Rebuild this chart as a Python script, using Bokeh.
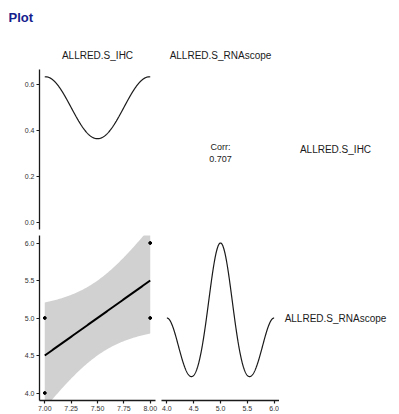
import numpy as np
from bokeh.plotting import figure
from bokeh.layouts import column, row
from bokeh.models import Range1d, FixedTicker, PrintfTickFormatter
from bokeh.core.properties import value
from bokeh.embed import file_html
from bokeh.resources import INLINE

# ---------------- data ----------------
var_names = ["ALLRED.S_IHC", "ALLRED.S_RNAscope"]
ihc = [7, 7, 7, 7, 8, 8, 8, 8]
rnascope = [4, 4, 5, 5, 5, 5, 6, 6]
density_ticks = [0.0, 0.2, 0.4, 0.6]
ihc_ticks = [7.0, 7.25, 7.5, 7.75, 8.0]
rna_ticks = [4.0, 4.5, 5.0, 5.5, 6.0]
T_975_DF6 = 2.446912  # t quantile used for the 95% band of the lm fit

FONT = "Liberation Sans"
AXIS_COL = "#1a1a1a"
TICK_LABEL_COL = "#333333"


# ---------------- helpers ----------------
def bw_nrd0(x):
    x = np.asarray(x, float)
    sd = np.std(x, ddof=1)
    q75, q25 = np.percentile(x, [75, 25])
    lo = min(sd, (q75 - q25) / 1.34)
    return 0.9 * lo * len(x) ** -0.2


def kde(x, n=512):
    x = np.asarray(x, float)
    h = bw_nrd0(x)
    grid = np.linspace(x.min(), x.max(), n)
    d = np.exp(-0.5 * ((grid[:, None] - x[None, :]) / h) ** 2).sum(axis=1)
    d /= (len(x) * h * np.sqrt(2 * np.pi))
    return grid, d


def expand(lo, hi, f=0.05):
    r = hi - lo
    return Range1d(lo - f * r, hi + f * r)


def base_fig(width, height, x_range, y_range, xaxis=False, yaxis=False, **borders):
    p = figure(width=width, height=height, x_range=x_range, y_range=y_range,
               output_backend="svg", toolbar_location=None,
               x_axis_location="below" if xaxis else None,
               y_axis_location="left" if yaxis else None,
               min_border_left=borders.get("left", 0), min_border_right=borders.get("right", 0),
               min_border_top=borders.get("top", 0), min_border_bottom=borders.get("bottom", 0))
    p.outline_line_color = None
    p.grid.visible = False
    p.background_fill_color = "white"
    p.border_fill_color = "white"
    for ax in p.axis:
        ax.axis_line_color = AXIS_COL
        ax.axis_line_width = 1.3
        ax.major_tick_line_color = AXIS_COL
        ax.major_tick_line_width = 1.2
        ax.major_tick_in = 0
        ax.major_tick_out = 3
        ax.minor_tick_line_color = None
        ax.major_label_text_font = FONT
        ax.major_label_text_font_size = "7px"
        ax.major_label_text_color = TICK_LABEL_COL
        ax.major_label_standoff = 2
    return p


def add_text(p, x, y, txt, size="10px", align="center", style="normal", color="#1a1a1a"):
    p.text(x=[x], y=[y], text=[txt], text_font=value(FONT), text_font_size=value(size),
           text_align=align, text_baseline="middle", text_font_style=style, text_color=color)


# ---------------- layout constants ----------------
LEFT_W, LEFT_B = 158, 39
MID_W = 121
STRIP_W = 112
W = LEFT_W + MID_W + STRIP_W
TITLE_H = 38
HEAD_H = 31
ROW1_H = 163
ROW2_H = 182

# ranges
ihc_x = expand(min(ihc), max(ihc))
rna_x = expand(min(rnascope), max(rnascope))
rna_y = expand(min(rnascope), max(rnascope))

g1, d1 = kde(ihc)
g2, d2 = kde(rnascope)

# ---------------- title ----------------
pt = base_fig(W, TITLE_H, Range1d(0, 1), Range1d(0, 1), left=8)
add_text(pt, 0, 1 - 17 / TITLE_H, "Plot", size="13px", align="left", style="bold", color="#14208c")

# ---------------- column headers ----------------
ph1 = base_fig(LEFT_W, HEAD_H, Range1d(0, 1), Range1d(0, 1), left=LEFT_B, right=3)
add_text(ph1, 0.5, 1 - 17 / HEAD_H, var_names[0])
ph2 = base_fig(MID_W + STRIP_W, HEAD_H, Range1d(0, 1), Range1d(0, 1), left=3, right=STRIP_W)
add_text(ph2, 0.5, 1 - 17 / HEAD_H, var_names[1])

# ---------------- row 1 ----------------
pA = base_fig(LEFT_W, ROW1_H, Range1d(ihc_x.start, ihc_x.end),
              Range1d(-0.05 * d1.max(), 1.05 * d1.max()),
              yaxis=True, left=LEFT_B, right=3, top=0, bottom=3)
pA.line(g1, d1, line_color="#1a1a1a", line_width=1.2)
pA.yaxis.ticker = FixedTicker(ticks=density_ticks)
pA.yaxis.formatter = PrintfTickFormatter(format="%.1f")

pB = base_fig(MID_W, ROW1_H, Range1d(rna_x.start, rna_x.end), Range1d(0, 1),
              left=3, right=0, top=0, bottom=3)
corr = np.corrcoef(ihc, rnascope)[0, 1]
add_text(pB, float(np.mean([min(rnascope), max(rnascope)])), 0.48,
         "Corr:\n%.3f" % corr, size="9px", color="#1a1a1a")

sA = base_fig(STRIP_W, ROW1_H, Range1d(0, 1), Range1d(0, 1), top=0, bottom=3)
add_text(sA, 0.5, 0.5, var_names[0])

# ---------------- row 2 ----------------
pC = base_fig(LEFT_W, ROW2_H, Range1d(ihc_x.start, ihc_x.end), rna_y,
              xaxis=True, yaxis=True, left=LEFT_B, right=3, top=3, bottom=14)
xs = np.asarray(ihc, float)
ys = np.asarray(rnascope, float)
slope, intercept = np.polyfit(xs, ys, 1)
n = len(xs)
resid = ys - (slope * xs + intercept)
s = np.sqrt((resid ** 2).sum() / (n - 2))
sxx = ((xs - xs.mean()) ** 2).sum()
xg = np.linspace(xs.min(), xs.max(), 100)
fit = slope * xg + intercept
se = s * np.sqrt(1.0 / n + (xg - xs.mean()) ** 2 / sxx)
pC.varea(x=xg, y1=fit - T_975_DF6 * se, y2=fit + T_975_DF6 * se,
         fill_color="#999999", fill_alpha=0.45)
pC.line(xg, fit, line_color="black", line_width=2)
pC.scatter(xs, ys, size=2.6, color="black")
pC.xaxis.ticker = FixedTicker(ticks=ihc_ticks)
pC.xaxis.formatter = PrintfTickFormatter(format="%.2f")
pC.yaxis.ticker = FixedTicker(ticks=rna_ticks)
pC.yaxis.formatter = PrintfTickFormatter(format="%.1f")

pD = base_fig(MID_W, ROW2_H, Range1d(rna_x.start, rna_x.end),
              Range1d(-0.05 * d2.max(), 1.05 * d2.max()),
              xaxis=True, left=3, right=0, top=3, bottom=14)
pD.line(g2, d2, line_color="#1a1a1a", line_width=1.2)
pD.xaxis.ticker = FixedTicker(ticks=rna_ticks)
pD.xaxis.formatter = PrintfTickFormatter(format="%.1f")

sC = base_fig(STRIP_W, ROW2_H, Range1d(0, 1), Range1d(0, 1), top=3, bottom=14)
add_text(sC, 0.5, 0.5, var_names[1])

layout = column(pt, row(ph1, ph2), row(pA, pB, sA), row(pC, pD, sC))
open("out.html", "w").write(file_html(layout, INLINE))
